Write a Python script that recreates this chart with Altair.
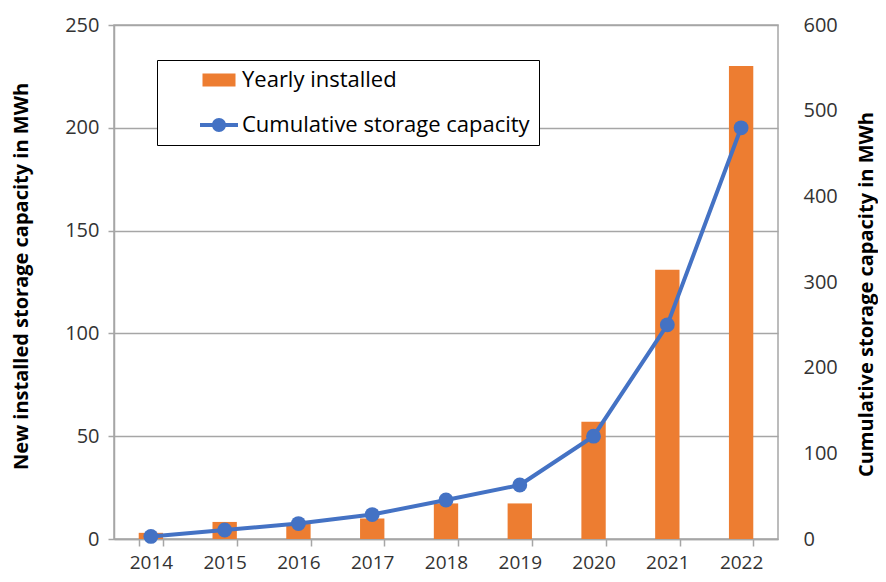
import altair as alt
import pandas as pd

years = ["2014", "2015", "2016", "2017", "2018", "2019", "2020", "2021", "2022"]
yearly = [3, 8.3, 7.5, 10, 17.3, 17.3, 57, 131, 230]
cumulative = [3, 10.5, 18, 28.5, 45.5, 63, 120, 250, 480]
legend_labels = ["Yearly installed", "Cumulative storage capacity"]

ORANGE = "#ED7D31"
BLUE = "#4472C4"
GRAY = "#A6A6A6"
FONT = "Open Sans"
TICK_FS = 20
TITLE_FS = 20

df = pd.DataFrame({"year": years, "yearly": yearly, "cumulative": cumulative})
leg_df = pd.DataFrame({"series": legend_labels})

x_enc = alt.X(
    "year:N",
    sort=years,
    scale=alt.Scale(paddingInner=0.67, paddingOuter=0.335),
    axis=alt.Axis(
        title=None, labelAngle=0, labelFontSize=19, labelFont=FONT, labelColor="#333333",
        labelPadding=7, tickBand="extent", tickSize=7, tickColor=GRAY, tickWidth=1.5,
        domainColor=GRAY, domainWidth=1.5, grid=False,
    ),
)

bars = alt.Chart(df).mark_bar(color=ORANGE).encode(
    x=x_enc,
    y=alt.Y(
        "yearly:Q",
        scale=alt.Scale(domain=[0, 250], nice=False),
        axis=alt.Axis(
            title="New installed storage capacity  in MWh",
            values=[0, 50, 100, 150, 200, 250],
            labelFontSize=TICK_FS, labelFont=FONT, labelColor="#333333", labelPadding=9,
            tickSize=6, tickColor=GRAY, tickWidth=1.5, domainColor=GRAY, domainWidth=1.5,
            grid=True, gridColor=GRAY, gridWidth=1.5,
            titleFont=FONT, titleFontSize=TITLE_FS, titleFontWeight="bold", titleColor="black",
            titleX=-93, titleY=251, titleAngle=270, titleAlign="center", titleBaseline="middle",
        ),
    ),
)

line = alt.Chart(df).mark_line(
    color=BLUE, strokeWidth=4,
    point=alt.OverlayMarkDef(color=BLUE, filled=True, size=220, opacity=1),
).encode(
    x=x_enc,
    y=alt.Y(
        "cumulative:Q",
        scale=alt.Scale(domain=[0, 600], nice=False),
        axis=alt.Axis(
            orient="right",
            title="Cumulative storage capacity in MWh",
            values=[0, 100, 200, 300, 400, 500, 600],
            labelFontSize=TICK_FS, labelFont=FONT, labelColor="#333333", labelPadding=25,
            ticks=False, domain=False, grid=False,
            titleFont=FONT, titleFontSize=TITLE_FS, titleFontWeight="bold", titleColor="black",
            titleX=88, titleY=269, titleAngle=270, titleAlign="center", titleBaseline="middle",
        ),
    ),
)

bar_path = "M-1.65,-0.65H1.65V0.65H-1.65Z"
line_path = ("M-1.9,-0.2H1.9V0.2H-1.9Z "
             "M-0.7,0A0.7,0.7 0 1,1 0.7,0A0.7,0.7 0 1,1 -0.7,0Z")

legend_def = alt.Legend(
    title=None, orient="none", legendX=43, legendY=35,
    strokeColor="black", padding=9, symbolOffset=42, labelOffset=12,
    rowPadding=23, symbolSize=400, symbolOpacity=1, symbolStrokeWidth=0,
    labelFontSize=22, labelFont=FONT, labelColor="black", labelLimit=0,
    fillColor="white",
)

legend_layer = alt.Chart(leg_df).mark_point(filled=True, opacity=0, size=400).encode(
    color=alt.Color("series:N", sort=legend_labels,
                    scale=alt.Scale(domain=legend_labels, range=[ORANGE, BLUE]),
                    legend=legend_def),
    shape=alt.Shape("series:N", sort=legend_labels,
                    scale=alt.Scale(domain=legend_labels, range=[bar_path, line_path]),
                    legend=legend_def),
)

chart = alt.layer(bars, line, legend_layer).resolve_scale(
    y="independent"
).properties(
    width=664, height=514,
    autosize=alt.AutoSizeParams(type="none"),
    padding={"left": 106, "top": 17, "right": 100, "bottom": 35},
).configure_view(stroke=GRAY, strokeWidth=1.5)

chart.save("out.html", embed_options={"renderer": "svg", "actions": False})
